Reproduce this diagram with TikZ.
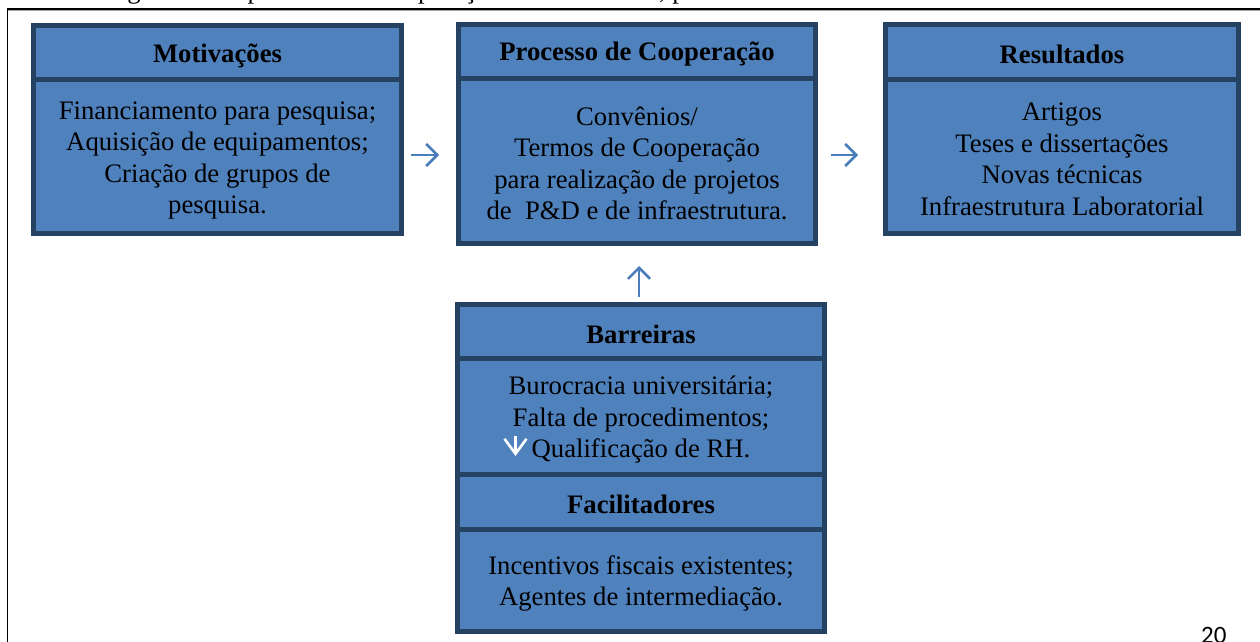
\documentclass[tikz,border=0pt]{standalone}
\usepackage{fontspec}
\setmainfont{Liberation Serif}
\newfontfamily\pagenumfont{Carlito}
\usetikzlibrary{arrows.meta}
\definecolor{boxfill}{HTML}{4F81BD}
\definecolor{boxline}{HTML}{264262}
\definecolor{arrowblue}{HTML}{4A7EBB}
\begin{document}
\begin{tikzpicture}[x=1pt,y=-1pt,
  cell/.style={draw=boxline, line width=5pt, fill=boxfill, inner sep=0pt},
  bodytext/.style={inner sep=0pt, align=center, text=black,
    font=\fontsize{26.7}{31.5}\selectfont},
  headtext/.style={bodytext, font=\fontsize{26.7}{31.5}\selectfont\bfseries},
  flowarrow/.style={draw=arrowblue, line width=2.6pt,
    -{Straight Barb[length=11pt,width=22pt,line width=2.6pt]}},
  markarrow/.style={draw=white, line width=2.6pt,
    -{Straight Barb[length=15pt,width=22pt,line width=2.6pt]}}]
\useasboundingbox (0,0) rectangle (1260,642);
\fill[white] (0,0) rectangle (1260,642);
% page frame
\coordinate (frameTL) at (7.3,9);
\coordinate (frameTR) at (1262,9);
\coordinate (frameBL) at (7.3,645);
\draw[gray!70, line width=1pt] (7.3,10.3) -- (1262,10.3);
\draw[black, line width=1.3pt] (frameBL) -- (frameTL) -- (frameTR);
% clipped caption
\node[anchor=base west, inner sep=0pt, font=\fontsize{26.7}{31.5}\selectfont] (caption) at (105,-1.5)
  {Figura 4 – O processo de cooperação U-E nas obras, por meio do Instituto de Geociências};
% page number
\node[anchor=base west, inner sep=0pt, font=\pagenumfont\fontsize{25}{30}\selectfont] (pagenum) at (1201,643) {20};

% Motivacoes
\node[cell, minimum width=368pt, minimum height=54.3pt] (motT) at (217.5,52.3) {};
\node[cell, minimum width=368pt, minimum height=154pt] (motB) at (217.5,156.5) {};
\node[headtext, yshift=-3.5pt] (motTt) at (motT.center) {Motivações};
\node[bodytext, yshift=-4pt] (motBt) at (motB.center)
  {Financiamento para pesquisa;\\Aquisição de equipamentos;\\Criação de grupos de\\pesquisa.};
% Processo
\node[cell, minimum width=357pt, minimum height=53.5pt] (proT) at (637,51.25) {};
\node[cell, minimum width=357pt, minimum height=165.5pt] (proB) at (637,160.75) {};
\node[headtext, yshift=-2.5pt] (proTt) at (proT.center) {Processo de Cooperação};
\node[bodytext, yshift=-2.5pt] (proBt) at (proB.center)
  {Convênios/\\Termos de Cooperação\\para realização de projetos\\de\ \ P\&D e de infraestrutura.};
% Resultados
\node[cell, minimum width=353pt, minimum height=54.5pt] (resT) at (1062,51.75) {};
\node[cell, minimum width=353pt, minimum height=154.5pt] (resB) at (1062,156.25) {};
\node[headtext, yshift=-2.5pt] (resTt) at (resT.center) {Resultados};
\node[bodytext, yshift=-3pt] (resBt) at (resB.center)
  {Artigos\\Teses e dissertações\\Novas técnicas\\Infraestrutura Laboratorial};
% Barreiras
\node[cell, minimum width=367pt, minimum height=53.5pt] (barT) at (641,331.25) {};
\node[cell, minimum width=367pt, minimum height=116pt] (barB) at (641,416) {};
\node[headtext, yshift=-3pt] (barTt) at (barT.center) {Barreiras};
\node[bodytext, yshift=-4pt] (barBt) at (barB.center)
  {Burocracia universitária;\\Falta de procedimentos;\\Qualificação de RH.};
% Facilitadores
\node[cell, minimum width=367pt, minimum height=55pt] (facT) at (641,501.5) {};
\node[cell, minimum width=367pt, minimum height=102.5pt] (facB) at (641,580.25) {};
\node[headtext, yshift=-2.5pt] (facTt) at (facT.center) {Facilitadores};
\node[bodytext, yshift=-3pt] (facBt) at (facB.center)
  {Incentivos fiscais existentes;\\Agentes de intermediação.};

% arrows
\coordinate (a1s) at (411,155);
\coordinate (a1e) at (439,155);
\coordinate (a2s) at (831,155);
\coordinate (a2e) at (858,155);
\coordinate (a3s) at (639,297);
\coordinate (a3e) at (639,266);
\coordinate (a4s) at (515.5,436);
\coordinate (a4e) at (515.5,456);
\draw[flowarrow] (a1s) -- (a1e);
\draw[flowarrow] (a2s) -- (a2e);
\draw[flowarrow] (a3s) -- (a3e);
\draw[markarrow] (a4s) -- (a4e);
\end{tikzpicture}
\end{document}
